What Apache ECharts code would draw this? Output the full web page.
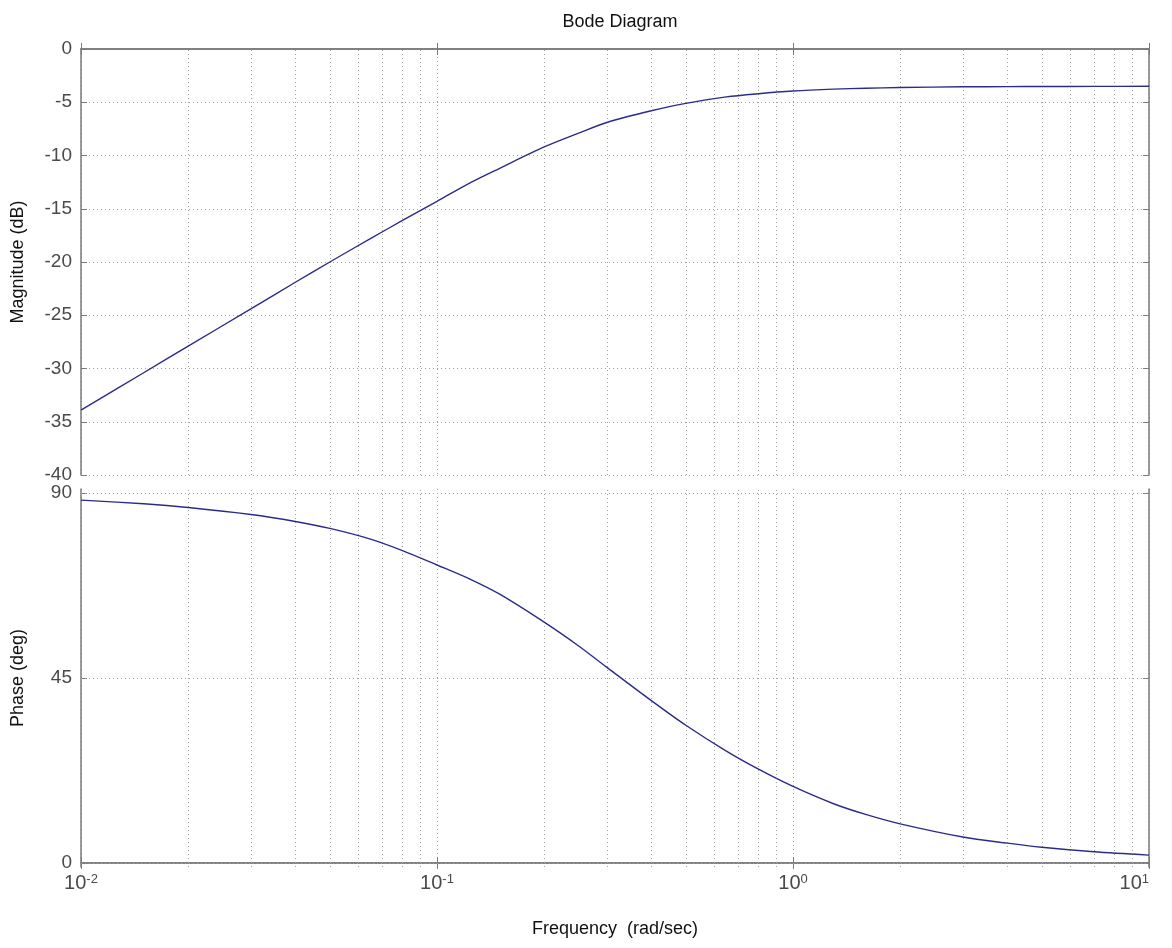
<!DOCTYPE html>
<html>
<head>
<meta charset="utf-8">
<title>Bode Diagram</title>
<script src="https://cdn.jsdelivr.net/npm/echarts@6/dist/echarts.min.js"></script>
<style>
  html, body { margin: 0; padding: 0; background: #fff; }
  #bode { width: 1172px; height: 948px; }
</style>
</head>
<body>
<div id="bode"></div>
<script>
  // frequency samples (rad/sec)
  var freq = [0.01, 0.015, 0.02, 0.03, 0.04, 0.05, 0.065, 0.08, 0.1, 0.125, 0.15, 0.2, 0.25, 0.3,
              0.4, 0.5, 0.65, 0.8, 1, 1.3, 1.6, 2, 3, 4, 5, 7, 10];
  // magnitude (dB)
  var magDb = [-33.9, -30.4, -27.9, -24.4, -21.9, -20.0, -17.8, -16.1, -14.3, -12.5, -11.2, -9.2, -7.9, -6.9,
               -5.8, -5.1, -4.5, -4.2, -3.95, -3.77, -3.68, -3.62, -3.55, -3.53, -3.52, -3.51, -3.5];
  // phase (deg)
  var phaseDeg = [88.3, 87.4, 86.5, 84.8, 83.1, 81.4, 78.8, 76.0, 72.5, 68.9, 65.4, 58.6, 52.8, 47.6,
                  39.5, 33.5, 27.2, 22.8, 18.6, 14.4, 11.8, 9.5, 6.3, 4.8, 3.8, 2.7, 1.9];
  // grid lines inside each decade
  var minorFreq = [0.02, 0.03, 0.04, 0.05, 0.06, 0.07, 0.08, 0.09,
                   0.2, 0.3, 0.4, 0.5, 0.6, 0.7, 0.8, 0.9,
                   2, 3, 4, 5, 6, 7, 8, 9];
  var phaseTicks = [0, 45, 90];

  var lineColor = '#2b2b8c';
  var boxColor = '#7a7a7a';
  var gridStyle = { color: '#a0a0a0', type: [1, 3], width: 1 };
  var labelColor = '#4a4a4a';
  var fontFam = '"Liberation Sans", Arial, sans-serif';

  function pairs(xs, ys) {
    var out = [];
    for (var i = 0; i < xs.length; i++) out.push([xs[i], ys[i]]);
    return out;
  }

  function vLines() {
    return minorFreq.map(function (f) { return { xAxis: f }; });
  }

  var bode = echarts.init(document.getElementById('bode'));

  // log x axis, one per panel side
  function freqAxis(grid, pos, showLabels) {
    return {
      type: 'log', logBase: 10, gridIndex: grid, position: pos,
      min: 0.01, max: 10,
      axisLine: { show: true, lineStyle: { color: boxColor, width: 1.5 } },
      axisTick: { show: true, inside: true, length: 6, lineStyle: { color: boxColor } },
      splitLine: { show: pos === 'bottom', lineStyle: gridStyle },
      axisLabel: showLabels ? {
        show: true, margin: 6, alignMaxLabel: 'right',
        formatter: function (v) {
          return '{b|10}{e|' + Math.round(Math.log10(v)) + '}';
        },
        rich: {
          b: { fontSize: 20, fontFamily: fontFam, color: labelColor, lineHeight: 20, padding: [12, 0, 0, 0], verticalAlign: 'bottom' },
          e: { fontSize: 13, fontFamily: fontFam, color: labelColor, lineHeight: 13, verticalAlign: 'top' }
        }
      } : { show: false },
      name: showLabels ? 'Frequency  (rad/sec)' : '',
      nameLocation: 'middle', nameGap: 53,
      nameTextStyle: { fontSize: 18, fontFamily: fontFam, color: '#111' }
    };
  }

  bode.setOption({
    backgroundColor: '#fff',
    animation: false,
    title: {
      text: 'Bode Diagram', left: 615, top: 8, textAlign: 'center',
      textStyle: { fontSize: 18, fontWeight: 'normal', fontFamily: fontFam, color: '#111' }
    },
    grid: [
      { left: 81, top: 49, right: 23, height: 426 },
      { left: 81, top: 489, right: 23, height: 378 }
    ],
    xAxis: [
      freqAxis(0, 'bottom', false),
      freqAxis(0, 'top', false),
      freqAxis(1, 'bottom', true),
      freqAxis(1, 'top', false)
    ],
    yAxis: [
      {
        type: 'value', gridIndex: 0, position: 'left', min: -40, max: 0, interval: 5,
        name: 'Magnitude (dB)', nameLocation: 'middle', nameGap: 54,
        nameTextStyle: { fontSize: 18, fontFamily: fontFam, color: '#111' },
        axisLine: { show: true, lineStyle: { color: boxColor, width: 1.5 } },
        axisTick: { show: true, inside: true, length: 6, lineStyle: { color: boxColor } },
        axisLabel: { fontSize: 19, fontFamily: fontFam, color: labelColor, margin: 9 },
        splitLine: { show: true, lineStyle: gridStyle }
      },
      {
        type: 'value', gridIndex: 0, position: 'right', min: -40, max: 0, interval: 5,
        axisLine: { show: true, lineStyle: { color: boxColor, width: 1.5 } },
        axisTick: { show: true, inside: true, length: 6, lineStyle: { color: boxColor } },
        axisLabel: { show: false },
        splitLine: { show: false }
      },
      {
        type: 'value', gridIndex: 1, position: 'left', min: -1, max: 91,
        name: 'Phase (deg)', nameLocation: 'middle', nameGap: 54,
        nameTextStyle: { fontSize: 18, fontFamily: fontFam, color: '#111' },
        axisLine: { show: true, lineStyle: { color: boxColor, width: 1.5 } },
        axisTick: { show: true, inside: true, length: 6, customValues: phaseTicks, lineStyle: { color: boxColor } },
        axisLabel: { fontSize: 19, fontFamily: fontFam, color: labelColor, margin: 9, customValues: phaseTicks },
        splitLine: { show: false }
      },
      {
        type: 'value', gridIndex: 1, position: 'right', min: -1, max: 91,
        axisLine: { show: true, lineStyle: { color: boxColor, width: 1.5 } },
        axisTick: { show: true, inside: true, length: 6, customValues: phaseTicks, lineStyle: { color: boxColor } },
        axisLabel: { show: false },
        splitLine: { show: false }
      }
    ],
    series: [
      {
        name: 'Magnitude', type: 'line', xAxisIndex: 0, yAxisIndex: 0,
        data: pairs(freq, magDb), showSymbol: false, smooth: 0.3, z: 3,
        lineStyle: { color: lineColor, width: 1.4 },
        markLine: {
          silent: true, symbol: 'none', z: 1, label: { show: false },
          lineStyle: gridStyle, data: vLines()
        }
      },
      {
        name: 'Phase', type: 'line', xAxisIndex: 2, yAxisIndex: 2,
        data: pairs(freq, phaseDeg), showSymbol: false, smooth: 0.3, z: 3,
        lineStyle: { color: lineColor, width: 1.4 },
        markLine: {
          silent: true, symbol: 'none', z: 1, label: { show: false },
          lineStyle: gridStyle,
          data: vLines().concat(phaseTicks.map(function (p) { return { yAxis: p }; }))
        }
      }
    ]
  });
</script>
</body>
</html>
